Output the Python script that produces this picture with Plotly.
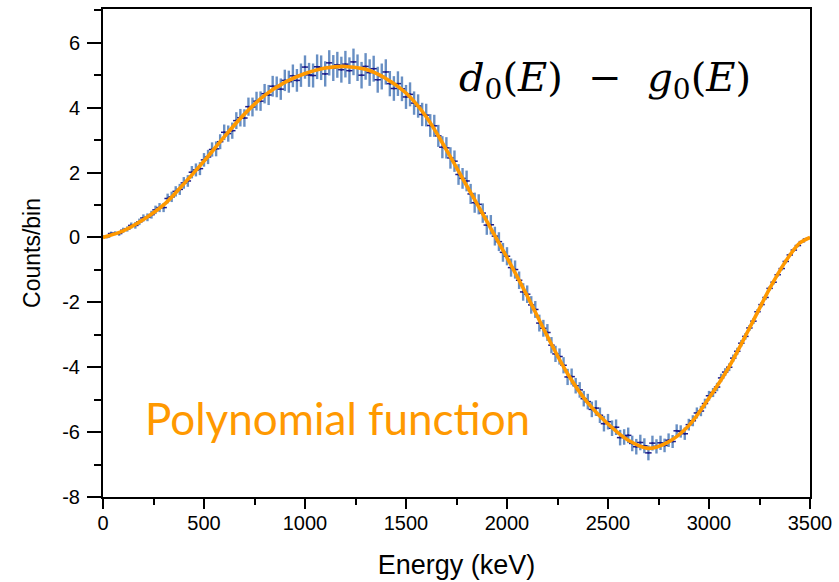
import plotly.graph_objects as go

# Energy bins (keV) of the difference spectrum
energy = list(range(0, 3501, 20))

# d0(E) - g0(E), counts per bin
counts = [
    0.02, 0.02, 0.12, 0.13, 0.12,
    0.22, 0.26, 0.37, 0.37, 0.48,
    0.60, 0.62, 0.70, 0.85, 0.92,
    0.92, 1.20, 1.25, 1.42, 1.48,
    1.68, 1.74, 2.01, 2.08, 2.12,
    2.39, 2.48, 2.71, 2.73, 2.95,
    3.24, 3.20, 3.29, 3.60, 3.69,
    3.68, 4.03, 4.02, 4.20, 4.20,
    4.43, 4.39, 4.66, 4.64, 4.57,
    4.84, 4.80, 4.98, 4.84, 5.00,
    5.25, 5.01, 4.99, 5.26, 5.23,
    5.04, 5.38, 5.22, 5.32, 5.17,
    5.34, 5.14, 5.41, 5.23, 5.00,
    5.27, 5.08, 5.20, 4.86, 4.96,
    5.10, 4.74, 4.59, 4.74, 4.58,
    4.33, 4.41, 4.14, 4.05, 3.79,
    3.77, 3.45, 3.44, 3.13, 2.78,
    2.76, 2.45, 2.35, 1.94, 1.82,
    1.74, 1.34, 1.07, 1.02, 0.75,
    0.38, 0.39, 0.04, -0.13, -0.46,
    -0.58, -0.93, -0.99, -1.32, -1.68,
    -1.75, -2.08, -2.22, -2.64, -2.80,
    -2.93, -3.32, -3.59, -3.67, -3.94,
    -4.30, -4.29, -4.57, -4.70, -4.97,
    -5.06, -5.30, -5.26, -5.48, -5.74,
    -5.68, -5.88, -5.85, -6.17, -6.15,
    -6.10, -6.35, -6.45, -6.32, -6.42,
    -6.64, -6.34, -6.44, -6.33, -6.41,
    -6.25, -6.29, -5.96, -5.98, -6.05,
    -5.77, -5.65, -5.41, -5.35, -5.12,
    -4.88, -4.78, -4.61, -4.33, -4.15,
    -4.00, -3.72, -3.51, -3.26, -3.05,
    -2.79, -2.58, -2.29, -2.07, -1.85,
    -1.57, -1.38, -1.15, -0.96, -0.74,
    -0.54, -0.39, -0.25, -0.13, -0.05,
    -0.01,
]

# Statistical uncertainty of each bin
errors = [
    0.05, 0.05, 0.06, 0.06, 0.07,
    0.08, 0.08, 0.09, 0.10, 0.10,
    0.11, 0.12, 0.12, 0.13, 0.14,
    0.14, 0.15, 0.16, 0.16, 0.17,
    0.18, 0.18, 0.19, 0.20, 0.20,
    0.21, 0.22, 0.22, 0.23, 0.23,
    0.24, 0.25, 0.25, 0.26, 0.27,
    0.27, 0.28, 0.29, 0.29, 0.30,
    0.30, 0.31, 0.32, 0.32, 0.33,
    0.33, 0.34, 0.35, 0.35, 0.36,
    0.36, 0.37, 0.37, 0.38, 0.38,
    0.39, 0.39, 0.40, 0.40, 0.40,
    0.41, 0.41, 0.41, 0.41, 0.41,
    0.41, 0.41, 0.40, 0.40, 0.40,
    0.39, 0.39, 0.38, 0.38, 0.38,
    0.37, 0.37, 0.36, 0.36, 0.36,
    0.35, 0.35, 0.34, 0.34, 0.34,
    0.33, 0.33, 0.33, 0.32, 0.32,
    0.32, 0.31, 0.31, 0.31, 0.30,
    0.30, 0.30, 0.29, 0.29, 0.29,
    0.28, 0.28, 0.28, 0.27, 0.27,
    0.27, 0.27, 0.26, 0.26, 0.26,
    0.26, 0.25, 0.25, 0.25, 0.25,
    0.25, 0.25, 0.24, 0.24, 0.24,
    0.24, 0.24, 0.24, 0.24, 0.24,
    0.24, 0.24, 0.24, 0.24, 0.24,
    0.24, 0.24, 0.24, 0.24, 0.23,
    0.23, 0.23, 0.22, 0.22, 0.21,
    0.21, 0.20, 0.20, 0.19, 0.19,
    0.18, 0.17, 0.17, 0.16, 0.15,
    0.15, 0.14, 0.13, 0.13, 0.12,
    0.12, 0.11, 0.11, 0.10, 0.10,
    0.09, 0.09, 0.08, 0.08, 0.08,
    0.07, 0.07, 0.06, 0.06, 0.06,
    0.05, 0.05, 0.05, 0.04, 0.04,
    0.03,
]

# Polynomial fit evaluated on a grid (denser near the upper end)
fit_energy = [
    0, 100, 200, 300, 400, 500, 600, 700, 800, 900,
    1000, 1100, 1200, 1300, 1400, 1500, 1600, 1700, 1800, 1900,
    2000, 2100, 2200, 2300, 2400, 2500, 2600, 2700, 2800, 2900,
    3000, 3100, 3200, 3300, 3350, 3400, 3450, 3500,
]
fit_counts = [
    0.00, 0.20, 0.55, 1.00, 1.65, 2.35, 3.10, 3.80, 4.38, 4.78,
    5.05, 5.22, 5.27, 5.18, 4.90, 4.45, 3.72, 2.70, 1.60, 0.50,
    -0.62, -1.80, -3.05, -4.20, -5.10, -5.75, -6.25, -6.50, -6.30, -5.80,
    -4.95, -3.98, -2.80, -1.58, -1.03, -0.55, -0.17, 0.00,
]

x_ticks = [0, 500, 1000, 1500, 2000, 2500, 3000, 3500]
y_ticks = [-8, -6, -4, -2, 0, 2, 4, 6]

fig = go.Figure()

fig.add_trace(go.Scatter(
    x=energy, y=counts, mode="markers",
    marker=dict(size=2, color="#1b1b8a"),
    error_y=dict(type="data", array=errors, visible=True,
                 color="rgba(62,112,178,0.78)", thickness=2.4, width=0),
    error_x=dict(type="constant", value=16, visible=True,
                 color="#1b1b8a", thickness=1.5, width=0),
    showlegend=False,
))

fig.add_trace(go.Scatter(
    x=fit_energy, y=fit_counts, mode="lines",
    line=dict(color="#ff9900", width=3.6, shape="spline", smoothing=1.0),
    showlegend=False,
))

sans = "Liberation Sans, Arial, sans-serif"
axis_font = dict(family=sans, size=20, color="black")

fig.update_xaxes(
    range=[0, 3500], showgrid=False, zeroline=False,
    showline=True, linecolor="black", linewidth=2, mirror=True,
    ticks="outside", ticklen=10, tickwidth=1.5, tickcolor="black",
    tickmode="array", tickvals=x_ticks, ticktext=[str(v) for v in x_ticks],
    tickfont=axis_font, ticklabelstandoff=-3,
    minor=dict(dtick=250, tick0=0, ticks="outside", ticklen=6, tickwidth=1.5, tickcolor="black"),
    title=dict(text="Energy (keV)", font=dict(family=sans, size=27, color="black"), standoff=22),
)

fig.update_yaxes(
    range=[-8, 7.04], showgrid=False, zeroline=False,
    showline=True, linecolor="black", linewidth=2, mirror=True,
    ticks="outside", ticklen=14, tickwidth=1.5, tickcolor="black",
    tickmode="array", tickvals=y_ticks, ticktext=[str(v) for v in y_ticks],
    tickfont=axis_font, ticklabelstandoff=3,
    minor=dict(dtick=1, tick0=0, ticks="outside", ticklen=7, tickwidth=1.5, tickcolor="black"),
    title=dict(text="Counts/bin", font=dict(family=sans, size=23, color="black"), standoff=15),
)

fig.add_annotation(
    xref="paper", yref="paper", x=0.5, y=0.855, xanchor="left", yanchor="middle",
    text="<i>d</i><sub>0</sub>(<i>E</i>)&nbsp;&nbsp;−&nbsp;&nbsp;<i>g</i><sub>0</sub>(<i>E</i>)",
    showarrow=False,
    font=dict(family="DejaVu Serif, Liberation Serif, serif", size=40, color="black"),
)

fig.add_annotation(
    xref="paper", yref="paper", x=0.056, y=0.162, xanchor="left", yanchor="middle",
    text="Polynomial function",
    showarrow=False,
    font=dict(family="Lato, Open Sans, sans-serif", size=44, color="#ff9900"),
)

fig.update_layout(
    width=839, height=582,
    margin=dict(l=103, r=28, t=7, b=82),
    paper_bgcolor="white", plot_bgcolor="white",
)

fig.write_html("out.html")
